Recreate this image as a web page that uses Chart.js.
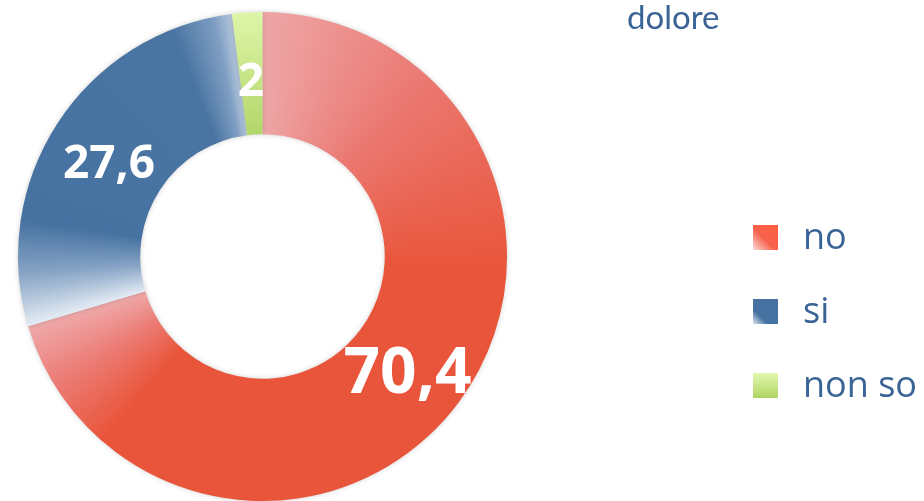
<!DOCTYPE html>
<html>
<head>
<meta charset="utf-8">
<script src="https://cdn.jsdelivr.net/npm/chart.js@4.4.1/dist/chart.umd.min.js"></script>
<style>
  html, body { margin: 0; padding: 0; background: #fff; }
  #wrap { position: relative; width: 924px; height: 501px; overflow: hidden; font-family: "Open Sans", sans-serif; }
  #title { position: absolute; left: 627px; top: -4px; font-family: Lato, sans-serif; font-size: 33px; color: #3a6496; }
  #legend { position: absolute; left: 753px; top: 216px; color: #3a6496; font-size: 36px; }
  .item { position: relative; height: 74px; line-height: 40px; padding-left: 50px; }
  .box { position: absolute; left: 0; top: 9px; width: 25px; height: 25px; }
</style>
</head>
<body>
<div id="wrap">
  <canvas id="donut" width="924" height="501"></canvas>
  <div id="title">dolore</div>
  <div id="legend"></div>
</div>
<script>
const labels = ["no", "si", "non so"];
const values = [70.4, 27.6, 2];
const colors = ["#e9553a", "#4672a1", "#c3e384"];

// conic gradient for each slice, light at its edges like the Office fill
function sliceFill(context) {
  const chart = context.chart;
  const area = chart.chartArea;
  const i = context.dataIndex;
  if (!area) return colors[i];
  const ctx = chart.ctx;
  const cx = (area.left + area.right) / 2;
  const cy = (area.top + area.bottom) / 2;
  const outer = Math.min(area.right - area.left, area.bottom - area.top) / 2;
  if (!isFinite(cx) || !isFinite(cy)) return colors[i];
  const total = values.reduce((a, b) => a + b, 0);
  const start = values.slice(0, i).reduce((a, b) => a + b, 0) / total;
  const end = start + values[i] / total;
  if (i === 2) {
    const g = ctx.createLinearGradient(0, cy - outer, 0, cy - outer / 2);
    g.addColorStop(0, "#def6a8");
    g.addColorStop(1, "#b2d66a");
    return g;
  }
  const g = ctx.createConicGradient(-Math.PI / 2, cx, cy);
  if (i === 0) {
    g.addColorStop(start, "#eea6a7");
    g.addColorStop(start + 0.12, "#eb7770");
    g.addColorStop(start + 0.26, "#e9553a");
    g.addColorStop(end - 0.09, "#e9553a");
    g.addColorStop(end - 0.04, "#ec7d77");
    g.addColorStop(end, "#efa9aa");
  } else {
    g.addColorStop(start, "#e4ecf4");
    g.addColorStop(start + 0.035, "#86a3c5");
    g.addColorStop(start + 0.07, "#4672a1");
    g.addColorStop(end - 0.04, "#4a75a3");
    g.addColorStop(end - 0.012, "#7f9ec2");
    g.addColorStop(end, "#b5c8dd");
  }
  return g;
}

// values written in white on the slices
const sliceLabels = {
  id: "sliceLabels",
  afterDatasetsDraw(chart) {
    const ctx = chart.ctx;
    chart.getDatasetMeta(0).data.forEach((arc, i) => {
      const p = arc.tooltipPosition();
      const size = values[i] > 50 ? 64 : 46;
      ctx.save();
      ctx.fillStyle = "#fff";
      ctx.font = "bold " + size + "px 'Open Sans'";
      ctx.textAlign = "center";
      ctx.textBaseline = "middle";
      ctx.fillText(String(values[i]).replace(".", ","), p.x - (size > 50 ? 2 : 0), p.y + 9);
      ctx.restore();
    });
  }
};

// faint shadow around the ring
const ringShadow = {
  id: "ringShadow",
  beforeDatasetsDraw(chart) {
    chart.ctx.save();
    chart.ctx.shadowColor = "rgba(0,0,0,0.18)";
    chart.ctx.shadowBlur = 5;
  },
  afterDatasetsDraw(chart) {
    chart.ctx.restore();
  }
};

new Chart(document.getElementById("donut"), {
  type: "doughnut",
  data: {
    labels: labels,
    datasets: [{
      data: values,
      backgroundColor: sliceFill,
      borderWidth: 0
    }]
  },
  options: {
    responsive: false,
    animation: false,
    cutout: "50%",
    layout: { padding: { left: 17, top: 12, right: 416, bottom: 0 } },
    plugins: {
      legend: { display: false },
      tooltip: { enabled: false }
    }
  },
  plugins: [ringShadow, sliceLabels]
});

// html legend
const boxFills = [
  "linear-gradient(225deg, #ff5e40 0%, #f7624b 55%, #fbdada 100%)",
  "linear-gradient(225deg, #4672a1 0%, #4672a1 70%, #dfe7f0 100%)",
  "linear-gradient(180deg, #e2f8b0 0%, #b0d463 100%)"
];
const legend = document.getElementById("legend");
labels.forEach((name, i) => {
  const item = document.createElement("div");
  item.className = "item";
  item.innerHTML = `<span class="box" style="background:${boxFills[i]}"></span>${name}`;
  legend.appendChild(item);
});
</script>
</body>
</html>
